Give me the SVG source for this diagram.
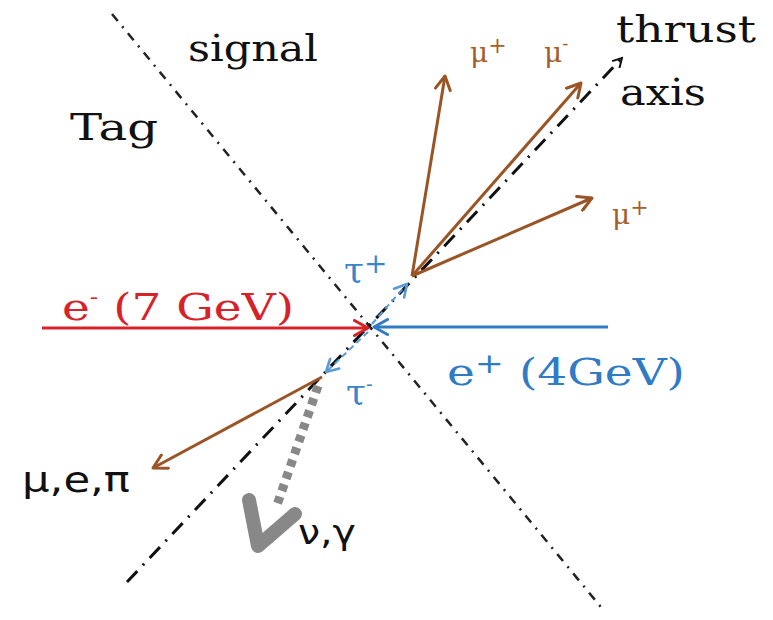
<svg xmlns="http://www.w3.org/2000/svg" width="773" height="620" viewBox="0 0 773 620">
<style>
.serif{font-family:"DejaVu Serif","Liberation Serif",serif;}
.sans{font-family:"DejaVu Sans","Liberation Sans",sans-serif;}
.brown{stroke:#9a5526;stroke-width:3;fill:none;}
.lbl{fill:#111;}
</style>
<defs>
<marker id="ab" viewBox="0 0 12 12" refX="10" refY="6" markerWidth="6" markerHeight="6" orient="auto" markerUnits="strokeWidth">
<path d="M1,1 L10,6 L1,11" fill="none" stroke="#9a5526" stroke-width="2" stroke-linecap="round" stroke-linejoin="round"/>
</marker>
<marker id="ar" viewBox="0 0 12 12" refX="10" refY="6" markerWidth="6" markerHeight="6" orient="auto" markerUnits="strokeWidth">
<path d="M1,1 L10,6 L1,11" fill="none" stroke="#d8222a" stroke-width="2" stroke-linecap="round" stroke-linejoin="round"/>
</marker>
<marker id="abl" viewBox="0 0 12 12" refX="10" refY="6" markerWidth="6" markerHeight="6" orient="auto" markerUnits="strokeWidth">
<path d="M1,1 L10,6 L1,11" fill="none" stroke="#2f7bc4" stroke-width="2" stroke-linecap="round" stroke-linejoin="round"/>
</marker>
<marker id="alb" viewBox="0 0 12 12" refX="10" refY="6" markerWidth="8" markerHeight="8" orient="auto" markerUnits="strokeWidth">
<path d="M1,1 L10,6 L1,11" fill="none" stroke="#5b9ad6" stroke-width="2" stroke-linecap="round" stroke-linejoin="round"/>
</marker>
<marker id="ak" viewBox="0 0 12 12" refX="10" refY="6" markerWidth="4" markerHeight="4" orient="auto" markerUnits="strokeWidth">
<path d="M1,1 L10,6 L1,11" fill="none" stroke="#111" stroke-width="2"/>
</marker>
</defs>
<rect width="773" height="620" fill="#fff"/>
<g id="connectors">
<line id="separator" x1="112" y1="14" x2="605" y2="612" stroke="#222" stroke-width="2.5" stroke-dasharray="9 7 2 7"/>
<line id="thrust-axis" x1="127" y1="582" x2="622" y2="58" stroke="#111" stroke-width="3" stroke-dasharray="15 8 2 8" marker-end="url(#ak)"/>
<line id="e-minus" x1="42" y1="328" x2="368" y2="328" stroke="#d8222a" stroke-width="3" marker-end="url(#ar)"/>
<line id="e-plus" x1="608" y1="327" x2="374" y2="327" stroke="#2f7bc4" stroke-width="3" marker-end="url(#abl)"/>
<line id="tau-plus" x1="372" y1="324" x2="407" y2="284" stroke="#5b9ad6" stroke-width="2" stroke-dasharray="6 4" marker-end="url(#alb)"/>
<line id="tau-minus" x1="368" y1="332" x2="326" y2="372" stroke="#5b9ad6" stroke-width="2" stroke-dasharray="6 4" marker-end="url(#alb)"/>
<line id="mu1" class="brown" x1="412" y1="276" x2="445" y2="76" marker-end="url(#ab)"/>
<line id="mu2" class="brown" x1="412" y1="276" x2="581" y2="83" marker-end="url(#ab)"/>
<line id="mu3" class="brown" x1="412" y1="276" x2="592" y2="198" marker-end="url(#ab)"/>
<line id="tag-track" class="brown" x1="322" y1="377" x2="153" y2="468" marker-end="url(#ab)"/>
<line id="nu" x1="318" y1="386" x2="276" y2="508" stroke="#888" stroke-width="9" stroke-dasharray="7 6"/>
<polyline id="nu-head" points="249,500 258,546 295,514" fill="none" stroke="#888" stroke-width="14" stroke-linejoin="round" stroke-linecap="round"/>
</g>
<g id="signal-label"><text class="serif lbl" x="188" y="61" font-size="38" textLength="130" lengthAdjust="spacingAndGlyphs">signal</text></g>
<g id="tag-label"><text class="serif lbl" x="70" y="140" font-size="38" textLength="88" lengthAdjust="spacingAndGlyphs">Tag</text></g>
<g id="thrust-label">
<text class="serif lbl" x="616" y="42" font-size="38" textLength="140" lengthAdjust="spacingAndGlyphs">thrust</text>
<text class="serif lbl" x="620" y="105" font-size="38" textLength="86" lengthAdjust="spacingAndGlyphs">axis</text>
</g>
<g id="e-minus-label"><text class="serif" x="62" y="320" font-size="38" fill="#d8222a" textLength="232" lengthAdjust="spacingAndGlyphs">e<tspan font-size="20" dy="-16">-</tspan><tspan dy="16"> (7 GeV)</tspan></text></g>
<g id="e-plus-label"><text class="serif" x="447" y="385" font-size="38" fill="#2f7bc4" textLength="238" lengthAdjust="spacingAndGlyphs">e<tspan font-size="28" dy="-12">+</tspan><tspan dy="12"> (4GeV)</tspan></text></g>
<g id="tau-plus-label"><text class="serif" x="344" y="282" font-size="36" fill="#3a86c8">τ<tspan font-size="28" dy="-9">+</tspan></text></g>
<g id="tau-minus-label"><text class="serif" x="346" y="404" font-size="36" fill="#3a86c8">τ<tspan font-size="20" dy="-13">-</tspan></text></g>
<g id="mu-labels" fill="#a3602c">
<text class="serif" x="470" y="62" font-size="28">μ<tspan font-size="22" dy="-9">+</tspan></text>
<text class="serif" x="544" y="62" font-size="28">μ<tspan font-size="18" dy="-12">-</tspan></text>
<text class="serif" x="612" y="224" font-size="28">μ<tspan font-size="22" dy="-9">+</tspan></text>
</g>
<g id="tag-products-label"><text class="sans lbl" x="22" y="492" font-size="36" textLength="108" lengthAdjust="spacingAndGlyphs">μ,e,π</text></g>
<g id="nu-label"><text class="sans lbl" x="298" y="544" font-size="34" textLength="58" lengthAdjust="spacingAndGlyphs">ν,γ</text></g>
</svg>
